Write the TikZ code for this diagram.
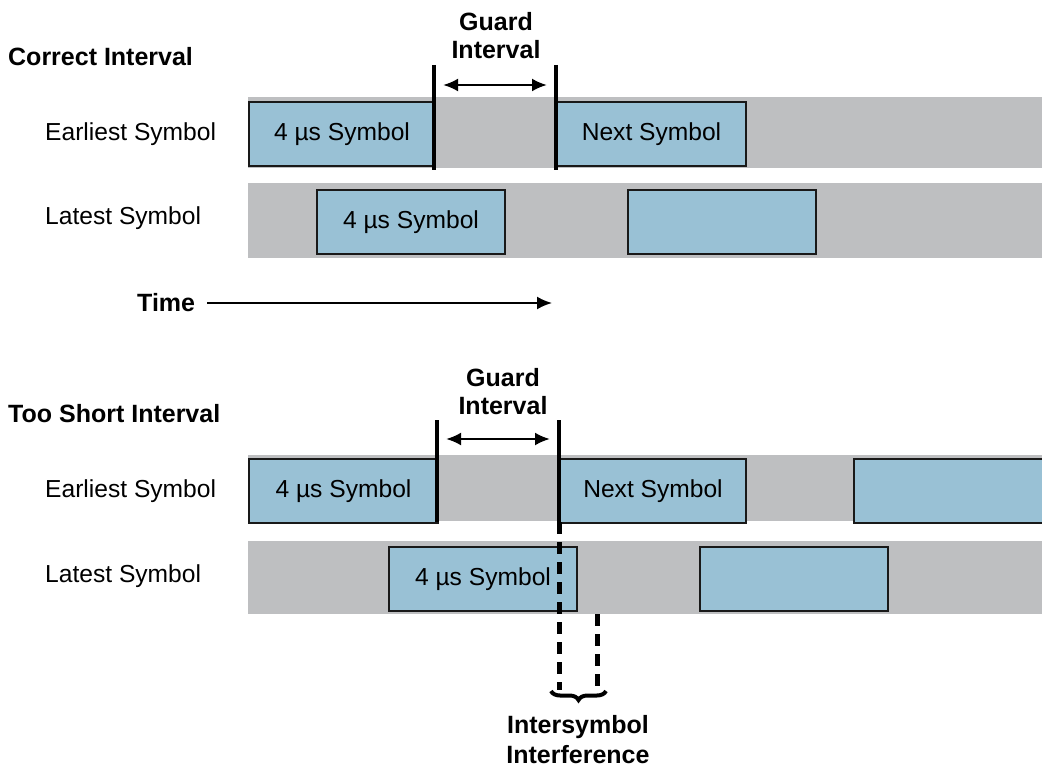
\documentclass[tikz,border=0pt]{standalone}
\usepackage{fontspec}
\setmainfont{Liberation Sans}
\definecolor{mygray}{RGB}{190,191,193}
\definecolor{myblue}{RGB}{153,193,213}
\usetikzlibrary{positioning,arrows.meta,calc,decorations.pathreplacing}

\begin{document}
\begin{tikzpicture}[
  x=1pt, y=-1pt,
  >={Latex[length=15pt,width=13pt]},
  mytitle/.style={
    inner sep=0pt,
    font=\fontsize{25}{28}\selectfont\bfseries,
    align=center
    },
  myrowlabel/.style={
    inner sep=0pt,
    anchor=west,
    font=\fontsize{24.6}{28}\selectfont
    },
  myband/.style={
    fill=mygray,
    inner sep=0pt,
    minimum width=794pt,
    minimum height=#1,
    anchor=north west
    },
  mysymbol/.style={
    draw=black!90,
    line width=2pt,
    fill=myblue,
    inner sep=0pt,
    minimum width=#1,
    minimum height=64pt,
    anchor=north west,
    font=\fontsize{24.6}{28}\selectfont
    },
  myguard/.style={line width=4pt},
  myspan/.style={<->, line width=2.5pt},
  myisi/.style={line width=5pt, dash pattern=on 12pt off 8pt}
]
\useasboundingbox (0,0) rectangle (1042,770);

% correct interval
\node[mytitle, anchor=west] (correct) at (8,57) {Correct Interval};
\node[mytitle] (guardA) at (496,36) {Guard\\Interval};

\node[myband=71pt] (bandA1) at (248,97) {};
\node[myband=75pt] (bandA2) at (248,183) {};
\node[myrowlabel] (earlyA) at (45,134) {Earliest Symbol};
\node[myrowlabel] (lateA) at (45,218) {Latest Symbol};

\node[mysymbol=186pt] (symA1) at (248,101) {4 µs Symbol};
\node[mysymbol=189pt] (nextA1) at (556,101) {Next Symbol};
\node[mysymbol=188pt] (symA2) at (316,189) {4 µs Symbol};
\node[mysymbol=188pt] (nextA2) at (627,189) {};

\coordinate (barA1top) at (434,65);
\coordinate (barA1bot) at (434,170);
\coordinate (barA2top) at (556,65);
\coordinate (barA2bot) at (556,170);
\draw[myguard] (barA1top) -- (barA1bot);
\draw[myguard] (barA2top) -- (barA2bot);
\draw[myspan] ($(barA1top)+(9,20)$) -- ($(barA2top)+(-9,20)$);

\node[mytitle, anchor=west] (time) at (137,303) {Time};
\coordinate (timeend) at (552,303);
\draw[->, line width=2pt] ([xshift=12pt]time.east) -- (timeend);

% too short interval
\node[mytitle, anchor=west] (short) at (8,414) {Too Short Interval};
\node[mytitle] (guardB) at (503,392) {Guard\\Interval};

\node[myband=66pt] (bandB1) at (248,455) {};
\node[myband=73pt] (bandB2) at (248,541) {};
\node[myrowlabel] (earlyB) at (45,491) {Earliest Symbol};
\node[myrowlabel] (lateB) at (45,576) {Latest Symbol};

\node[mysymbol=189pt] (symB1) at (248,458) {4 µs Symbol};
\node[mysymbol=186pt] (nextB1) at (559,458) {Next Symbol};
\node[mysymbol=189pt] (lastB1) at (853,458) {};
\node[mysymbol=188pt] (symB2) at (388,546) {4 µs Symbol};
\node[mysymbol=188pt] (nextB2) at (699,546) {};

\coordinate (barB1top) at (437,420);
\coordinate (barB1bot) at (437,522);
\coordinate (barB2top) at (559,420);
\coordinate (barB2bot) at (559,522);
\draw[myguard] (barB1top) -- (barB1bot);
\draw[myguard] (barB2top) -- (barB2bot);
\draw[myspan] ($(barB1top)+(9,19)$) -- ($(barB2top)+(-9,19)$);

\coordinate (isiA) at (559,690);
\coordinate (isiBtop) at (597,614);
\coordinate (isiB) at (597,690);
\draw[myisi] (barB2bot) -- (isiA);
\draw[myisi] (isiBtop) -- (isiB);
\coordinate (braceL) at (551,691);
\coordinate (braceR) at (606,691);
\draw[decorate, decoration={brace, amplitude=9pt, mirror}, line width=4pt] (braceL) -- (braceR);

\node[mytitle, font=\fontsize{25}{30}\selectfont\bfseries] (isi) at (578,740) {Intersymbol\\Interference};

\end{tikzpicture}
\end{document}
